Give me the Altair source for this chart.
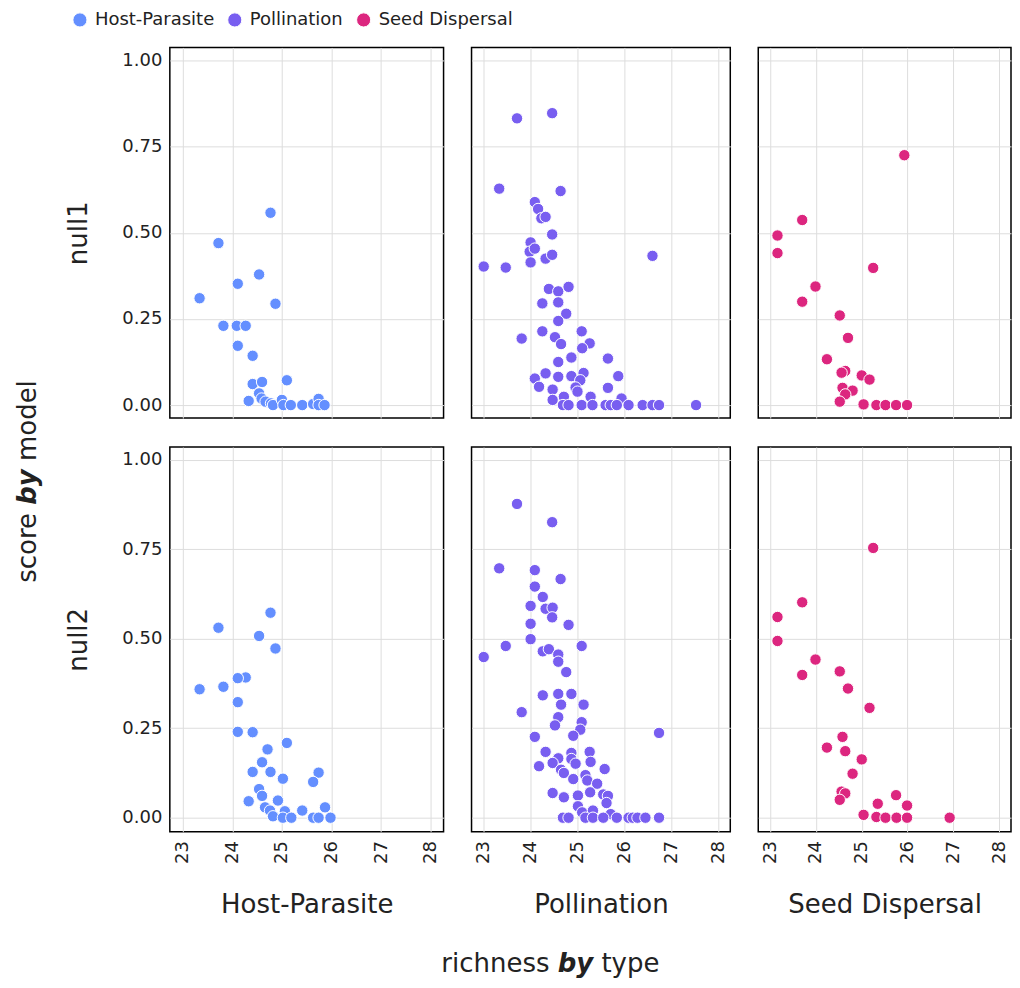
import altair as alt
import pandas as pd

types = ["Host-Parasite", "Pollination", "Seed Dispersal"]
models = ["null1", "null2"]
palette = ["#648FFF", "#785EF0", "#DC267F"]
x_ticks = [23, 24, 25, 26, 27, 28]
y_ticks = [0.0, 0.25, 0.5, 0.75, 1.0]
y_title_parts = ["score", "by", "model"]
x_title_parts = ["richness", "by", "type"]

# Host-Parasite
hp_null1_richness = [24.77, 23.72, 24.54, 24.11, 23.34, 24.87, 23.82, 24.09, 24.27, 24.11, 24.41, 24.41,
                     24.60, 25.10, 24.54, 24.59, 24.33, 24.67, 24.78, 24.82, 25.00, 25.03, 25.18, 25.41,
                     25.63, 25.74, 25.74, 25.86]
hp_null1_score = [0.558, 0.470, 0.379, 0.352, 0.310, 0.294, 0.230, 0.230, 0.230, 0.172, 0.143, 0.061,
                  0.067, 0.072, 0.034, 0.019, 0.012, 0.010, 0.005, 0.000, 0.015, 0.000, 0.000, 0.000,
                  0.003, 0.018, 0.000, 0.000]
hp_null2_richness = [24.77, 23.72, 24.54, 24.87, 24.27, 24.11, 23.34, 23.82, 24.11, 24.11, 24.41, 25.10,
                     24.71, 24.60, 24.41, 24.77, 25.02, 25.74, 25.63, 24.54, 24.60, 24.33, 24.92, 24.66,
                     24.76, 24.82, 25.06, 25.02, 25.19, 25.41, 25.87, 25.63, 25.74, 25.98]
hp_null2_score = [0.573, 0.531, 0.508, 0.473, 0.392, 0.390, 0.359, 0.366, 0.323, 0.240, 0.239, 0.209,
                  0.191, 0.155, 0.128, 0.128, 0.109, 0.126, 0.100, 0.080, 0.061, 0.046, 0.048, 0.029,
                  0.020, 0.004, 0.018, 0.000, 0.000, 0.020, 0.029, 0.000, 0.000, 0.000]

# Pollination
po_null1_richness = [23.71, 24.46, 23.33, 24.64, 24.09, 24.16, 24.23, 24.32, 24.46, 24.00, 23.98, 24.09,
                     24.32, 24.46, 24.00, 23.00, 23.47, 26.60, 24.39, 24.59, 24.81, 24.25, 24.59, 24.76,
                     24.59, 23.81, 24.25, 24.52, 24.65, 25.09, 25.26, 25.10, 24.87, 24.59, 25.65, 24.09,
                     24.32, 24.59, 24.87, 25.13, 25.06, 25.87, 24.18, 24.47, 24.96, 25.65, 24.71, 24.47,
                     25.28, 25.94, 25.00, 24.69, 24.81, 25.09, 25.32, 25.60, 25.71, 25.84, 26.09, 26.39,
                     26.60, 26.74, 27.53]
po_null1_score = [0.832, 0.847, 0.628, 0.621, 0.589, 0.569, 0.542, 0.546, 0.495, 0.472, 0.445, 0.454,
                  0.425, 0.436, 0.414, 0.402, 0.399, 0.433, 0.337, 0.330, 0.343, 0.295, 0.298, 0.265,
                  0.244, 0.193, 0.214, 0.197, 0.177, 0.214, 0.179, 0.165, 0.138, 0.125, 0.135, 0.077,
                  0.092, 0.082, 0.084, 0.093, 0.072, 0.084, 0.053, 0.045, 0.051, 0.050, 0.024, 0.015,
                  0.024, 0.019, 0.039, 0.000, 0.000, 0.000, 0.000, 0.000, 0.000, 0.000, 0.000, 0.000,
                  0.000, 0.000, 0.000]
po_null2_richness = [23.71, 24.46, 23.33, 24.09, 24.64, 24.09, 24.26, 24.00, 24.32, 24.47, 24.46, 24.00,
                     24.81, 24.00, 23.47, 25.09, 23.00, 24.26, 24.39, 24.59, 24.59, 24.76, 24.26, 24.59,
                     24.87, 24.65, 25.13, 23.81, 24.59, 24.52, 25.09, 25.06, 24.91, 24.09, 26.74, 24.32,
                     24.87, 25.26, 24.59, 24.87, 24.96, 25.28, 24.18, 24.47, 24.65, 25.58, 24.71, 24.91,
                     25.17, 25.21, 25.42, 24.47, 24.71, 25.01, 25.27, 25.55, 25.65, 25.62, 25.01, 25.10,
                     25.33, 25.71, 24.69, 24.81, 25.17, 25.33, 25.55, 25.84, 26.09, 26.18, 26.28, 26.45,
                     26.74]
po_null2_score = [0.877, 0.826, 0.697, 0.692, 0.667, 0.646, 0.617, 0.592, 0.584, 0.587, 0.560, 0.542,
                  0.539, 0.499, 0.480, 0.480, 0.449, 0.465, 0.471, 0.456, 0.436, 0.407, 0.342, 0.346,
                  0.346, 0.316, 0.316, 0.295, 0.281, 0.258, 0.267, 0.246, 0.229, 0.226, 0.237, 0.184,
                  0.181, 0.184, 0.166, 0.164, 0.151, 0.156, 0.144, 0.153, 0.134, 0.136, 0.125, 0.108,
                  0.119, 0.104, 0.095, 0.069, 0.057, 0.062, 0.071, 0.065, 0.061, 0.041, 0.032, 0.015,
                  0.020, 0.010, 0.000, 0.000, 0.000, 0.000, 0.000, 0.000, 0.000, 0.000, 0.000, 0.000,
                  0.000]

# Seed Dispersal
sd_null1_richness = [25.93, 23.70, 23.16, 23.16, 25.25, 23.99, 23.70, 24.52, 24.70, 24.24, 24.64, 24.56,
                     25.00, 25.17, 24.58, 24.80, 24.64, 24.52, 25.04, 25.32, 25.52, 25.75, 25.99]
sd_null1_score = [0.725, 0.537, 0.492, 0.441, 0.398, 0.344, 0.300, 0.260, 0.195, 0.133, 0.099, 0.094,
                  0.086, 0.074, 0.050, 0.042, 0.031, 0.010, 0.002, 0.000, 0.000, 0.000, 0.000]
sd_null2_richness = [25.25, 23.70, 23.16, 23.16, 23.99, 23.70, 24.52, 24.70, 25.17, 24.58, 24.24, 24.64,
                     25.00, 24.80, 24.56, 24.64, 24.52, 25.75, 25.35, 25.99, 25.04, 25.32, 25.52, 25.76,
                     25.99, 26.92]
sd_null2_score = [0.754, 0.602, 0.561, 0.494, 0.442, 0.399, 0.409, 0.361, 0.307, 0.226, 0.196, 0.186,
                  0.163, 0.123, 0.073, 0.068, 0.050, 0.063, 0.039, 0.034, 0.008, 0.002, 0.000, 0.000,
                  0.000, 0.000]

series = [
    ("Host-Parasite", "null1", hp_null1_richness, hp_null1_score),
    ("Pollination", "null1", po_null1_richness, po_null1_score),
    ("Seed Dispersal", "null1", sd_null1_richness, sd_null1_score),
    ("Host-Parasite", "null2", hp_null2_richness, hp_null2_score),
    ("Pollination", "null2", po_null2_richness, po_null2_score),
    ("Seed Dispersal", "null2", sd_null2_richness, sd_null2_score),
]

records = []
for t, m, xs, ys in series:
    for xv, yv in zip(xs, ys):
        records.append({"type": t, "model": m, "richness": xv, "score": yv})
df = pd.DataFrame(records)

col_widths = [274, 259, 253]
row_heights = [371, 385]
y_domains = [[-0.0377, 1.0377], [-0.039, 1.036]]
x_domain = [22.74, 28.26]
TXT = "#222222"
GRID = "#dddddd"


def panel(t, m, ci, ri):
    bottom = ri == 1
    left = ci == 0
    xkw = dict(values=x_ticks, grid=True, gridColor=GRID, ticks=False, domain=False,
               labels=bottom, labelAngle=270, labelFontSize=18, labelPadding=9, labelColor=TXT,
               format="d", titleFontSize=26, titleFontWeight="normal", titleColor=TXT,
               titlePadding=28)
    xkw["title"] = t if bottom else ""
    ykw = dict(values=y_ticks, grid=True, gridColor=GRID, ticks=False, domain=False,
               labels=left, labelFontSize=18, labelPadding=8, labelColor=TXT, format=".2f",
               titleFontSize=26, titleFontWeight="normal", titleColor=TXT, titlePadding=30)
    ykw["title"] = m if left else ""
    legend = alt.Legend(orient="none", legendX=-99, legendY=-37, direction="horizontal",
                        symbolType="circle", symbolSize=200, symbolStrokeColor="white",
                        symbolStrokeWidth=1, symbolOpacity=1, labelFontSize=18, labelColor=TXT,
                        columnPadding=10, labelOffset=6, padding=0, title="")
    pts = alt.Chart(df).transform_filter(
        (alt.datum.type == t) & (alt.datum.model == m)
    ).mark_circle(size=130, opacity=1, stroke="white", strokeWidth=1).encode(
        x=alt.X("richness:Q", scale=alt.Scale(domain=x_domain, nice=False, zero=False),
                axis=alt.Axis(**xkw)),
        y=alt.Y("score:Q", scale=alt.Scale(domain=y_domains[ri], nice=False, zero=False),
                axis=alt.Axis(**ykw)),
        color=alt.Color("type:N", scale=alt.Scale(domain=types, range=palette), legend=legend),
    )
    layers = [pts]
    if bottom and left:
        # overall axis titles, "by" in bold italic
        yt = pd.DataFrame({"label": y_title_parts, "pos": [66, 40, 14],
                           "align": ["right", "center", "left"]})
        xt = pd.DataFrame({"label": x_title_parts, "pos": [380, 406, 432],
                           "align": ["right", "center", "left"]})
        for i in range(3):
            bold = i == 1
            layers.append(
                alt.Chart(yt.iloc[[i]]).mark_text(
                    angle=270, align=yt["align"][i], baseline="middle", fontSize=26,
                    fontWeight="bold" if bold else "normal",
                    fontStyle="italic" if bold else "normal", color=TXT
                ).encode(text="label:N", x=alt.value(-142), y=alt.value(int(yt["pos"][i])))
            )
            layers.append(
                alt.Chart(xt.iloc[[i]]).mark_text(
                    align=xt["align"][i], baseline="alphabetic", fontSize=26,
                    fontWeight="bold" if bold else "normal",
                    fontStyle="italic" if bold else "normal", color=TXT
                ).encode(text="label:N", x=alt.value(int(xt["pos"][i])), y=alt.value(525))
            )
    return alt.layer(*layers).properties(width=col_widths[ci], height=row_heights[ri])


panels = [panel(t, m, ci, ri) for ri, m in enumerate(models) for ci, t in enumerate(types)]

chart = alt.concat(
    *panels, columns=3, spacing={"row": 29, "column": 28}, bounds="flush", align="each"
).resolve_scale(color="shared").properties(
    padding={"left": 6, "top": 2, "right": 0, "bottom": 0}
).configure(font="DejaVu Sans").configure_view(
    stroke="black", strokeWidth=1.5
)

chart.save("out.html", embed_options={"renderer": "svg", "actions": False})
